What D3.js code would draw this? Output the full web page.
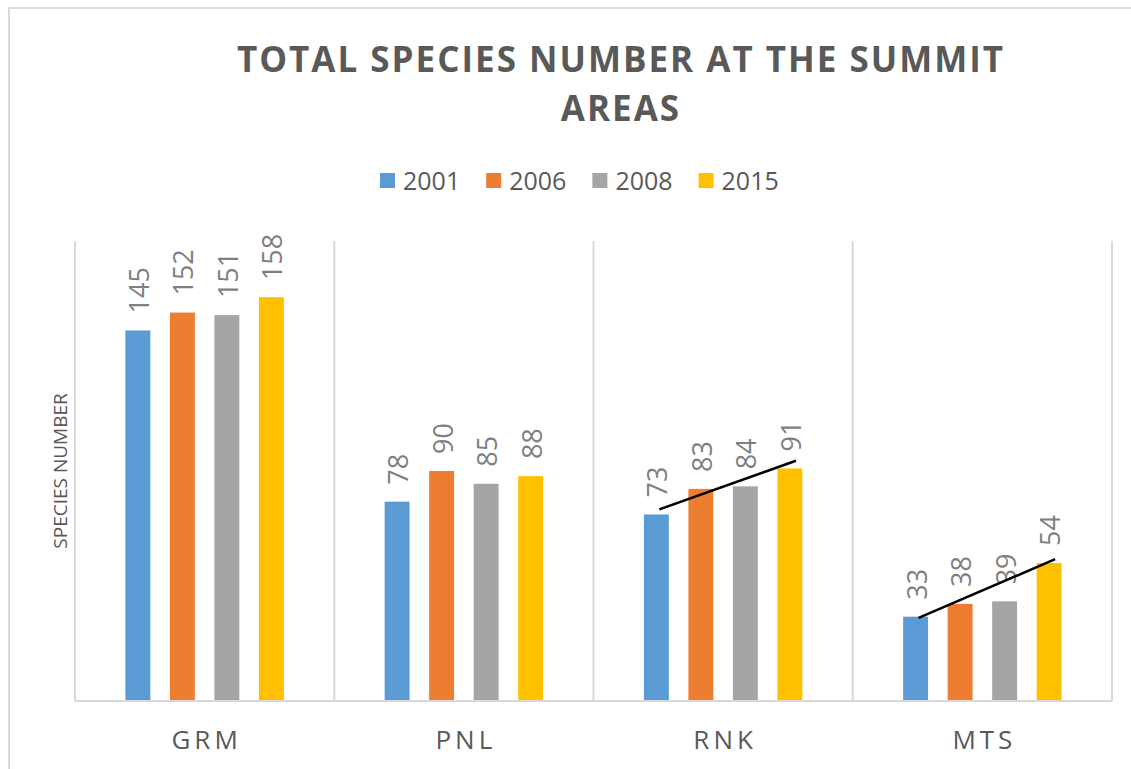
<!DOCTYPE html>
<html>
<head>
<meta charset="utf-8">
<script src="https://cdn.jsdelivr.net/npm/d3@7"></script>
<style>
  body { margin: 0; background: #fff; }
  svg text { font-family: "Open Sans", "Noto Sans", sans-serif; }
</style>
</head>
<body>
<div id="chart"></div>
<script>
// data
const categories = ["GRM", "PNL", "RNK", "MTS"];
const years = ["2001", "2006", "2008", "2015"];
const colors = ["#5B9BD5", "#ED7D31", "#A5A5A5", "#FFC000"];
const values2001 = [145, 78, 73, 33];
const values2006 = [152, 90, 83, 38];
const values2008 = [151, 85, 84, 39];
const values2015 = [158, 88, 91, 54];
// hand drawn trend lines (value at first bar, value at last bar)
const trendCats = ["RNK", "MTS"];
const trendStart = [75, 32.5];
const trendEnd = [94, 55.5];

const WIDTH = 1131;
const HEIGHT = 769;
const PLOT = { left: 75, right: 1112, top: 241, bottom: 701 };
const GRID = "#D9D9D9";
const TEXT = "#595959";

const series = [values2001, values2006, values2008, values2015];
const rows = categories.map((c, i) => ({
  cat: c,
  vals: years.map((y, j) => ({ year: y, idx: j, value: series[j][i] }))
}));

const svg = d3
  .select("#chart")
  .append("svg")
  .attr("width", WIDTH)
  .attr("height", HEIGHT);

// outer chart frame
svg.append("rect")
  .attr("x", 9).attr("y", 8)
  .attr("width", 1200).attr("height", 820)
  .attr("fill", "none")
  .attr("stroke", GRID)
  .attr("stroke-width", 2);

// title
const title = svg.append("text")
  .attr("text-anchor", "middle")
  .attr("fill", TEXT)
  .attr("font-size", 35)
  .attr("font-weight", "bold")
  .attr("letter-spacing", 2);
title.append("tspan").attr("x", 621).attr("y", 72).text("TOTAL SPECIES NUMBER AT THE SUMMIT");
title.append("tspan").attr("x", 621).attr("y", 121).text("AREAS");

// legend
const legend = svg.append("g");
let lx = 380;
years.forEach((y, i) => {
  legend.append("rect")
    .attr("x", lx).attr("y", 173)
    .attr("width", 15).attr("height", 15)
    .attr("fill", colors[i]);
  const t = legend.append("text")
    .attr("x", lx + 23).attr("y", 190)
    .attr("fill", TEXT)
    .attr("font-size", 25)
    .text(y);
  lx += 23 + t.node().getComputedTextLength() + 26;
});

// scales
const x0 = d3.scaleBand()
  .domain(categories)
  .range([PLOT.left, PLOT.right])
  .padding(0);

const x1 = d3.scaleBand()
  .domain(years)
  .range([40.6, x0.bandwidth() - 40.6])
  .paddingInner(0.44)
  .paddingOuter(0.22);

const y = d3.scaleLinear()
  .domain([0, 180])
  .range([PLOT.bottom, PLOT.top]);

// category separators
svg.append("g")
  .selectAll("line")
  .data(categories.concat(["end"]))
  .join("line")
  .attr("x1", (d, i) => i < categories.length ? x0(d) : PLOT.right)
  .attr("x2", (d, i) => i < categories.length ? x0(d) : PLOT.right)
  .attr("y1", PLOT.top)
  .attr("y2", PLOT.bottom)
  .attr("stroke", GRID)
  .attr("stroke-width", 2);

// bars
const groups = svg.append("g")
  .selectAll("g")
  .data(rows)
  .join("g")
  .attr("transform", (d) => `translate(${x0(d.cat)},0)`);

groups.selectAll("rect")
  .data((d) => d.vals)
  .join("rect")
  .attr("x", (d) => x1(d.year))
  .attr("y", (d) => y(d.value))
  .attr("width", x1.bandwidth())
  .attr("height", (d) => y(0) - y(d.value))
  .attr("fill", (d) => colors[d.idx]);

// data labels (rotated)
groups.selectAll("text")
  .data((d) => d.vals)
  .join("text")
  .attr("transform", (d) =>
    `translate(${x1(d.year) + x1.bandwidth() / 2 + 1},${y(d.value) - 17}) rotate(-90)`)
  .attr("dy", "0.37em")
  .attr("fill", "#7F7F7F")
  .attr("font-size", 27)
  .text((d) => d.value);

// x axis baseline
svg.append("line")
  .attr("x1", PLOT.left).attr("x2", PLOT.right)
  .attr("y1", PLOT.bottom).attr("y2", PLOT.bottom)
  .attr("stroke", GRID)
  .attr("stroke-width", 2);

// category labels
svg.append("g")
  .selectAll("text")
  .data(categories)
  .join("text")
  .attr("x", (d) => x0(d) + x0.bandwidth() / 2 + 2)
  .attr("y", 749)
  .attr("text-anchor", "middle")
  .attr("fill", TEXT)
  .attr("font-size", 26)
  .attr("letter-spacing", 4)
  .text((d) => d);

// y axis title
svg.append("text")
  .attr("transform", `translate(67,${(PLOT.top + PLOT.bottom) / 2}) rotate(-90)`)
  .attr("text-anchor", "middle")
  .attr("fill", TEXT)
  .attr("font-size", 19)
  .text("SPECIES NUMBER");

// trend lines
svg.append("g")
  .selectAll("line")
  .data(trendCats)
  .join("line")
  .attr("x1", (d) => x0(d) + x1(years[0]) + x1.bandwidth() / 2 + 3)
  .attr("x2", (d) => x0(d) + x1(years[3]) + x1.bandwidth() / 2 + 6)
  .attr("y1", (d, i) => y(trendStart[i]))
  .attr("y2", (d, i) => y(trendEnd[i]))
  .attr("stroke", "#000")
  .attr("stroke-width", 2.5);
</script>
</body>
</html>
